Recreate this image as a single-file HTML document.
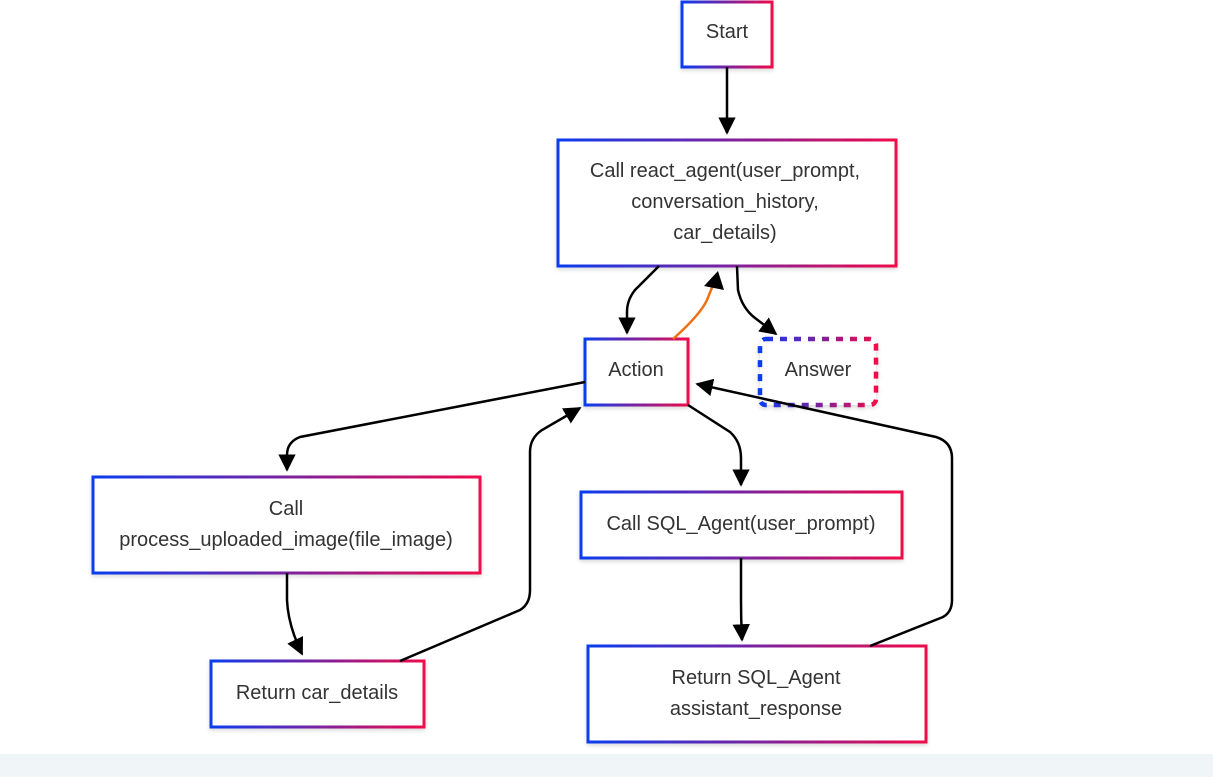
<!DOCTYPE html>
<html><head><meta charset="utf-8"><style>
html,body{margin:0;padding:0;background:#fff;width:1213px;height:777px;overflow:hidden}
svg{display:block}
text{font-family:"Liberation Sans",sans-serif;font-size:20px;fill:#333;text-anchor:middle}
</style></head><body>
<svg width="1213" height="777" viewBox="0 0 1213 777" xmlns="http://www.w3.org/2000/svg">
<defs>
<linearGradient id="g" x1="0" y1="0" x2="1" y2="0">
<stop offset="0" stop-color="#0a3cf0"/><stop offset="0.5" stop-color="#7a22a0"/><stop offset="1" stop-color="#f00a4a"/>
</linearGradient>
<marker id="a" viewBox="0 0 10 10" refX="9" refY="5" markerWidth="7" markerHeight="7" orient="auto"><path d="M0,0L10,5L0,10z" fill="#000"/></marker>
<filter id="s" x="-10%" y="-10%" width="120%" height="130%"><feDropShadow dx="0" dy="2" stdDeviation="2" flood-opacity="0.15"/></filter>
</defs>
<rect x="0" y="754" width="1213" height="23" fill="#f0f6f7"/>
<g fill="#fff" stroke="url(#g)" stroke-width="3" filter="url(#s)">
<rect x="682" y="2" width="90" height="65"/>
<rect x="558" y="140" width="338" height="126"/>
<rect x="585" y="339" width="103" height="66"/>
<rect x="760" y="339" width="116" height="66" rx="6" stroke-dasharray="7,7" stroke-width="4.5"/>
<rect x="93" y="477" width="387" height="96"/>
<rect x="581" y="492" width="321" height="66"/>
<rect x="211" y="661" width="213" height="66"/>
<rect x="588" y="646" width="338" height="96"/>
</g>
<g fill="none" stroke="#000" stroke-width="2.5" marker-end="url(#a)">
<path d="M727,67 L727,133"/>
<path d="M659,266 L635,290 Q627,300 627,312 L627,333"/>
<path d="M737,266 L738,290 Q742,308 755,318 L776,334"/>
<path d="M585,382 L300,437 Q287,442 287,455 L287,470"/>
<path d="M688,405 L730,432 Q741,442 741,458 L741,485"/>
<path d="M741,558 L741,600 Q741,620 742,640"/>
<path d="M287,573 L287,600 Q288,625 302,654"/>
<path d="M400,661 L520,610 Q530,604 530,590 L530,452 Q530,438 542,430 L580,408"/>
<path d="M870,646 L943,617 Q952,612 952,600 L952,458 Q952,442 936,437 L697,384"/>
</g>
<path d="M673,339 Q700,315 707,300 L713,285" fill="none" stroke="#f07010" stroke-width="2.5"/>
<path d="M704,286 L718,271 L724,290 z" fill="#000"/>
<text x="725" y="177">Call react_agent(user_prompt,</text>
<text x="727" y="38">Start</text>
<text x="725" y="208">conversation_history,</text>
<text x="725" y="239">car_details)</text>
<text x="636" y="376">Action</text>
<text x="818" y="376">Answer</text>
<text x="286" y="515">Call</text>
<text x="286" y="546">process_uploaded_image(file_image)</text>
<text x="741" y="530">Call SQL_Agent(user_prompt)</text>
<text x="317" y="699">Return car_details</text>
<text x="756" y="684">Return SQL_Agent</text>
<text x="756" y="715">assistant_response</text>
</svg>
</body></html>
